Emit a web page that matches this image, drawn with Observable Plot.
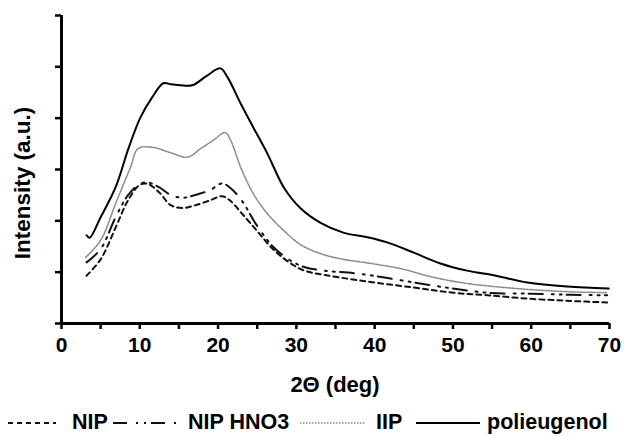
<!DOCTYPE html>
<html>
<head>
<meta charset="utf-8">
<script src="https://cdn.jsdelivr.net/npm/d3@7"></script>
<script src="https://cdn.jsdelivr.net/npm/@observablehq/plot@0.6"></script>
<style>
  body { margin: 0; background: #fff; }
  #wrap { position: relative; width: 626px; height: 436px; font-family: "Liberation Sans", Arial, sans-serif; font-weight: bold; color: #000; }
  #ylabel { position: absolute; left: 23px; top: 183px; transform: translate(-50%, -50%) rotate(-90deg); white-space: nowrap; font-size: 22.5px; }
  #xlabel { position: absolute; left: 0; top: 371px; width: 670px; text-align: center; font-size: 22px; line-height: 28px; }
  #legend { position: absolute; left: 0; top: 409px; height: 26px; width: 626px; font-size: 21.5px; }
  .li { position: absolute; top: 0; height: 26px; line-height: 26px; white-space: nowrap; }
  .li svg { display: block; }
</style>
</head>
<body>
<div id="wrap">
  <div id="chart"></div>
  <div id="ylabel"></div>
  <div id="xlabel"></div>
  <div id="legend"></div>
</div>
<script>
// ---- data ----
const seriesNames = ["NIP", "NIP HNO3", "IIP", "polieugenol"];
const xTicks = [0, 5, 10, 15, 20, 25, 30, 35, 40, 45, 50, 55, 60, 65, 70];
const yTicks = [0, 1, 2, 3, 4, 5, 6];
const xTitle = "2Θ (deg)";
const yTitle = "Intensity (a.u.)";

const polX = [3.2,3.6,5,6.9,8.6,10.1,11.6,13,14,15.2,16.7,18.6,20.3,21.2,22.9,24.5,26.3,28.4,30.5,33.1,36,39.1,41.6,45,48.4,51.8,55.2,59.5,64.6,69.9];
const polY = [1.72,1.67,2.07,2.65,3.43,4.02,4.41,4.68,4.66,4.64,4.64,4.83,4.97,4.8,4.28,3.82,3.31,2.65,2.25,1.96,1.77,1.68,1.58,1.38,1.17,1.03,0.94,0.8,0.72,0.68];

const iipX = [3.1,5,6.9,8.8,9.8,11.7,13.9,16.1,17.8,19.4,20.9,21.6,22.9,24.5,26.3,28.4,30.5,33.1,36,39.1,43.3,47.5,51.8,58.2,64.6,69.7];
const iipY = [1.29,1.62,2.33,3.04,3.41,3.43,3.33,3.24,3.41,3.57,3.72,3.57,3.04,2.53,2.14,1.81,1.54,1.36,1.25,1.18,1.07,0.90,0.78,0.68,0.62,0.60];

const hnoX = [3.2,5,7,8.5,10,11,12.5,14,15.5,17,19,20.5,21.5,23,25,27,29,31,33.5,38,45,50,54.4,60,65,69.7];
const hnoY = [1.19,1.45,2.1,2.5,2.72,2.75,2.65,2.5,2.45,2.5,2.6,2.73,2.65,2.4,1.9,1.5,1.25,1.1,1.03,0.97,0.8,0.68,0.6,0.58,0.56,0.55];

const nipX = [3.2,5,7,8.5,10,11,12.5,14,15.5,17,19,20.5,21.5,23,25,27,29,31,33.5,38,45,50,54.4,60,65,69.7];
const nipY = [0.93,1.25,1.9,2.4,2.7,2.72,2.55,2.3,2.25,2.3,2.4,2.48,2.4,2.15,1.8,1.45,1.2,1.03,0.95,0.84,0.7,0.6,0.55,0.48,0.44,0.41];

// ---- styles ----
const styles = {
  "NIP":         {stroke: "#111", dash: "5,4", width: 2},
  "NIP HNO3":    {stroke: "#111", dash: "14,9,2,6,2,5", width: 2},
  "IIP":         {stroke: "#8a8a8a", dash: "1.5,1.5", width: 1.6},
  "polieugenol": {stroke: "#000", dash: null, width: 2}
};

const toRows = (xs, ys) => xs.map((x, i) => ({x, y: ys[i]}));
const data = {
  "NIP": toRows(nipX, nipY),
  "NIP HNO3": toRows(hnoX, hnoY),
  "IIP": toRows(iipX, iipY),
  "polieugenol": toRows(polX, polY)
};

const lineMarks = seriesNames.map(n => Plot.line(data[n], {
  x: "x", y: "y",
  curve: "catmull-rom",
  stroke: styles[n].stroke,
  strokeWidth: styles[n].width,
  strokeDasharray: styles[n].dash ?? undefined,
  strokeLinejoin: "round"
}));

const chart = Plot.plot({
  width: 626,
  height: 365,
  marginLeft: 61,
  marginRight: 17,
  marginTop: 15,
  marginBottom: 42,
  style: {fontFamily: "'Liberation Sans', Arial, sans-serif", fontWeight: "bold", fontSize: "21px", color: "#000", background: "#fff", overflow: "visible"},
  x: {domain: [0, 70]},
  y: {domain: [0, 6]},
  marks: [
    Plot.axisX({ticks: xTicks, tickSize: 6, strokeWidth: 2.5, tickPadding: 8,
      tickFormat: d => d % 10 === 0 ? String(d) : "", label: null, fontSize: 21, fontWeight: "bold"}),
    Plot.axisY({ticks: yTicks, tickSize: 6, strokeWidth: 2.5, tickFormat: () => "", label: null}),
    Plot.ruleY([0], {strokeWidth: 3}),
    Plot.ruleX([0], {strokeWidth: 3}),
    ...lineMarks
  ]
});
document.getElementById("chart").appendChild(chart);

document.getElementById("ylabel").textContent = yTitle;
document.getElementById("xlabel").textContent = xTitle;

// ---- legend ----
const legendPos = [
  {sl: 8,   sw: 48, tl: 72},
  {sl: 113, sw: 66, tl: 188},
  {sl: 300, sw: 66, tl: 376},
  {sl: 416, sw: 64, tl: 487}
];
const leg = d3.select("#legend");
seriesNames.forEach((n, i) => {
  const p = legendPos[i];
  const s = leg.append("div").attr("class", "li").style("left", p.sl + "px")
    .append("svg").attr("width", p.sw).attr("height", 26);
  s.append("line").attr("x1", 0).attr("x2", p.sw).attr("y1", 14).attr("y2", 14)
    .attr("stroke", styles[n].stroke).attr("stroke-width", styles[n].width)
    .attr("stroke-dasharray", styles[n].dash);
  leg.append("div").attr("class", "li").style("left", p.tl + "px").text(n);
});
</script>
</body>
</html>
